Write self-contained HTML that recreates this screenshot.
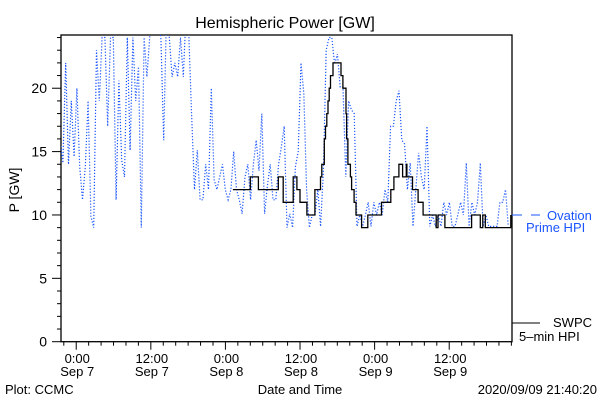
<!DOCTYPE html>
<html><head><meta charset="utf-8"><style>
body{margin:0;background:#fff;}
svg{display:block;font-family:"Liberation Sans",sans-serif;}
</style></head><body>
<svg id="chart" width="600" height="400" viewBox="0 0 600 400">
<defs><clipPath id="plotclip"><rect x="61" y="35" width="451" height="307"/></clipPath></defs>
<text x="285" y="28" font-size="16" text-anchor="middle">Hemispheric Power [GW]</text>
<text x="0" y="0" font-size="14" text-anchor="middle" transform="translate(19,190) rotate(-90)">P [GW]</text>
<text x="300" y="394" font-size="13" text-anchor="middle">Date and Time</text>
<text x="5" y="394" font-size="13">Plot: CCMC</text>
<text x="597" y="394" font-size="13" text-anchor="end">2020/09/09 21:40:20</text>
<g id="axes"></g>
<g id="series" clip-path="url(#plotclip)"></g>
<g>
<line x1="512" y1="215" x2="522" y2="215" stroke="#1a55ff" stroke-width="1"/>
<line x1="531" y1="215" x2="540" y2="215" stroke="#1a55ff" stroke-width="1"/>
<text x="547" y="220" font-size="13" fill="#1a55ff">Ovation</text>
<text x="526" y="232" font-size="13" fill="#1a55ff">Prime HPI</text>
</g>
<g>
<line x1="512" y1="323" x2="540" y2="323" stroke="#000" stroke-width="1"/>
<text x="553" y="327" font-size="13">SWPC</text>
<text x="519" y="341" font-size="13">5–min HPI</text>
</g>
</svg>
<script>
const yTicks=[0,5,10,15,20];
const xTickHours=[0,12,24,36,48,60];
const xTickTimes=["0:00","12:00","0:00","12:00","0:00","12:00"];
const xTickDates=["Sep 7","Sep 7","Sep 8","Sep 8","Sep 9","Sep 9"];
const swpcHours=[25.2,28.0,29.3,32.5,33.3,34.9,35.5,36.0,37.1,38.4,38.9,39.3,39.5,39.9,40.1,40.3,40.5,40.7,40.9,41.3,42.1,42.6,42.9,43.4,43.5,43.7,44.1,44.3,44.7,45.0,45.9,46.9,49.1,50.6,51.1,51.9,52.5,53.1,53.2,54.1,55.0,55.8,57.9,58.2,59.3,63.6,65.0,65.4,65.8,69.9];
const swpcValues=[12,13,12,13,11,13,12,11,10,12,12,13,14,16,17,18,19,20,21,22,22,21,20,18,16,14,13,12,11,10,9,10,11,12,13,14,13,14,13,12,11,10,9,10,9,10,9,10,9,10];
const ovationStartHour=-2.6, ovationEndHour=69.5;
const ovationValues=[15.9,14.1,22,14,19,14.6,20,13.8,11.2,13.8,19,9.9,9,23,19,24,24,17,24,24,11.2,20.6,14.3,13,24,15.1,24,19,21.7,9,24,20.9,24,26,26,26,24,15.9,26,24,20.9,22,20.9,24,20.9,26,24,17.7,12,15.1,11.2,11.2,14,12,20,12.8,12,13,14,12,11.2,12,15,12,11.2,10.1,13,14,11.2,14,15.9,13.5,18,10.1,12.3,14,11.2,11.2,14,15.4,17,9,10.1,9,13.8,15,22,19.6,12,9,10,10,
12,9.1,13.5,23,24,24,21.9,22.7,20.1,20.1,13,19,18.3,18,9.1,10,9.1,10,11,9.1,11,10,11,10,12,11,17,17,19,19.8,15.9,15.6,12,14.1,9.1,12,14.9,13,12,17,9.1,10,9.1,10,9.1,11,10,11,9.1,9.1,10,11,10,14.1,9.1,11,10,11,14.1,9.1,10,9.1,9.1,9.1,9.1,11,11,12,9.1];

const X0=61,X1=512,Y0=341.7,Y1=35;
const hMin=-2.45,hMax=70.1,vMin=0,vMax=24.2;
function xs(h){return X0+(h-hMin)/(hMax-hMin)*(X1-X0);}
function ys(v){return Y0-(v-vMin)/(vMax-vMin)*(Y0-Y1);}
const NS="http://www.w3.org/2000/svg";
function mk(tag,attrs,parent){const e=document.createElementNS(NS,tag);for(const k in attrs)e.setAttribute(k,attrs[k]);parent.appendChild(e);return e;}
const axes=document.getElementById('axes');
const frame=mk('rect',{x:X0,y:Y1,width:X1-X0,height:Y0-Y1,fill:'none',stroke:'#000','stroke-width':1.3},axes);


for(let v=0;v<=24;v++){
  const major=v%5===0;
  const t=mk('line',{x1:X0-(major?9:4),x2:X0,y1:ys(v),y2:ys(v),stroke:'#000'},axes);
  
  
}
yTicks.forEach(v=>{
  const t=mk('text',{x:X0-14,y:ys(v)+5,'font-size':14,'text-anchor':'end'},axes);t.textContent=v;
  
  
});
for(let h=-2;h<=70;h+=2){
  const major=h%12===0;
  const t=mk('line',{x1:xs(h),x2:xs(h),y1:Y0,y2:Y0+(major?8:4),stroke:'#000'},axes);
  
  
}
xTickHours.forEach((h,i)=>{
  const a=mk('text',{x:xs(h)+1,y:363,'font-size':13,'text-anchor':'middle'},axes);a.textContent=xTickTimes[i];
  
  
  const b=mk('text',{x:xs(h)+1,y:376,'font-size':13,'text-anchor':'middle'},axes);b.textContent=xTickDates[i];
  
  
});
const series=document.getElementById('series');
let pts=[];const n=ovationValues.length;
ovationValues.forEach((v,i)=>{const h=ovationStartHour+i*(ovationEndHour-ovationStartHour)/(n-1);pts.push(xs(h).toFixed(1)+','+ys(v).toFixed(1));});
const ov=mk('polyline',{points:pts.join(' '),fill:'none',stroke:'#1a55ff','stroke-width':1.2,'stroke-dasharray':'1.2 1.8'},series);


let d='';
swpcHours.forEach((h,i)=>{const x=xs(h),y=ys(swpcValues[i]);d+=(i===0?'M':'V')+(i===0?x.toFixed(1)+','+y.toFixed(1):y.toFixed(1));if(i<swpcHours.length-1)d+='H'+xs(swpcHours[i+1]).toFixed(1);});
const sw=mk('path',{d:d,fill:'none',stroke:'#000','stroke-width':1.3},series);


</script>
</body></html>
